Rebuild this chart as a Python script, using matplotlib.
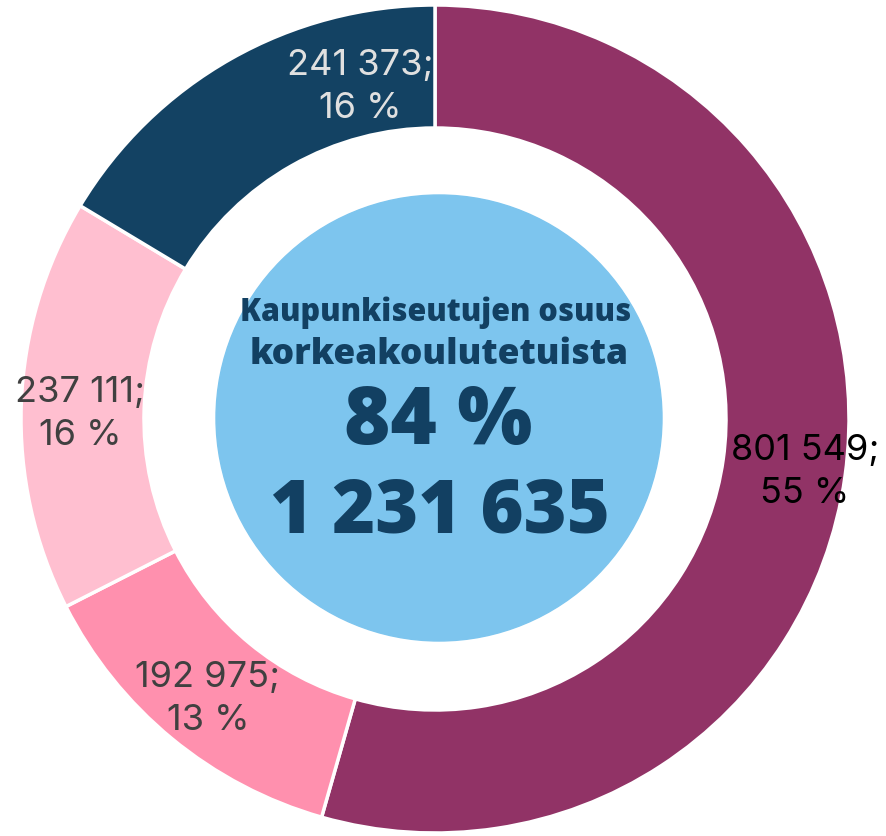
import matplotlib
matplotlib.use("Agg")
import matplotlib.pyplot as plt
from matplotlib.patches import Circle

# data
values = [801549, 192975, 237111, 241373]
labels = ["801 549;\n55 %", "192 975;\n13 %", "237 111;\n16 %", "241 373;\n16 %"]
colors = ["#913366", "#FF90AE", "#FFBFD0", "#134263"]
label_colors = ["#000000", "#404040", "#404040", "#E0E0E0"]
# where each label sits (pixels, from top-left)
label_pos = [(805, 472), (208, 699), (80, 414), (360, 87)]

center_title = ["Kaupunkiseutujen osuus", "korkeakoulutetuista"]
center_share = "84 %"
center_total = "1 231 635"

W, H = 887, 836
cx, cy = 435, 419
r_out = 414
ring = 123
navy = "#124062"

fig = plt.figure(figsize=(W / 100, H / 100), dpi=100)
ax = fig.add_axes([0, 0, 1, 1])
ax.set_xlim(0, W)
ax.set_ylim(0, H)
ax.set_aspect("equal")
ax.axis("off")

ax.pie(values, colors=colors, startangle=90, counterclock=False,
       center=(cx, H - cy), radius=r_out,
       wedgeprops=dict(width=ring, edgecolor="white", linewidth=2.5))
ax.set_xlim(0, W)
ax.set_ylim(0, H)

ax.add_patch(Circle((439, H - 418), 223, color="#7DC5EE", zorder=3))

for lab, (x, y), c in zip(labels, label_pos, label_colors):
    ax.text(x, H - y, lab, ha="center", va="center", fontsize=26,
            color=c, family="Inter", linespacing=1.35, zorder=4)

ax.text(436, H - 313, center_title[0], ha="center", va="center", fontsize=22,
        color=navy, family="Open Sans", fontweight=800, zorder=4)
ax.text(439, H - 355, center_title[1], ha="center", va="center", fontsize=25.5,
        color=navy, family="Open Sans", fontweight=800, zorder=4)
ax.text(438, H - 423, center_share, ha="center", va="center", fontsize=57,
        color=navy, family="Open Sans", fontweight=800, zorder=4)
ax.text(440, H - 513, center_total, ha="center", va="center", fontsize=53,
        color=navy, family="Open Sans", fontweight=800, zorder=4)

fig.savefig("out.png", dpi=100)
